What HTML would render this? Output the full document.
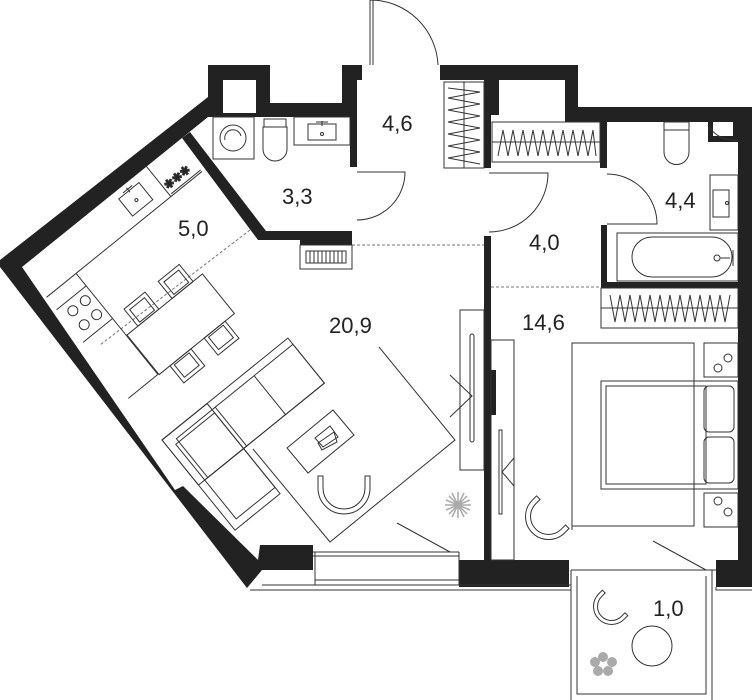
<!DOCTYPE html>
<html><head><meta charset="utf-8"><style>
html,body{margin:0;padding:0;background:#fff}
svg{display:block}
text{font-family:"Liberation Sans",sans-serif;font-size:22px;fill:#222}
</style></head><body>
<svg width="752" height="700" viewBox="0 0 752 700" xmlns="http://www.w3.org/2000/svg">
<g fill="#222" stroke="none">
<polygon points="208,97 208,117 22,267 175,490 182,490 258,560 260,545 313,545 313,570 262,570 247,588 0,267 0,260"/>
<polygon points="175,490 183,486 258,560 250,566"/>
<polygon points="208,65 270,65 270,103 342,103 342,65 362,65 362,80 357,80 357,167 350,167 350,117 270,117 208,117"/>
<rect x="223" y="80" width="33" height="33" fill="#fff"/>
<polygon points="182,138 190,132 266,231 300,231 352,231 352,245 300,245 300,240 258,240"/>
<polygon points="440,65 578,65 578,107 752,107 752,122 607,122 607,168 600,168 600,122 565,122 565,115 491,115 491,168 484,168 484,80 440,80"/>
<rect x="499" y="80" width="66" height="35" fill="#fff"/>
<rect x="738" y="107" width="14" height="453"/>
<rect x="716" y="560" width="36" height="27"/>
<rect x="708" y="122" width="30" height="20"/>
<rect x="713" y="122" width="20" height="14" fill="#fff"/>
<rect x="484" y="236" width="7" height="324"/>
<rect x="488" y="370" width="8" height="45"/>
<rect x="601" y="225" width="6" height="62"/>
<rect x="601" y="282" width="137" height="6"/>
<rect x="459" y="560" width="110" height="27"/>
</g>
<g fill="none" stroke="#333" stroke-width="1">
<path d="M313,552 H459 M313,556 H459 M315,580 H459 M262,585 H571 M250,590 H571 M315,552 V585 M459,552 V585"/>
<path d="M571,570 H716 M712,570 V700 M571,570 V700 M577,576 V694 H706 V576 M716,587 V590 H752"/>
<path d="M397,523 L450,552 M653,541 L706,570"/>
<path d="M370,0 V65 M373,0 V65 M370,0 A68,68 0 0 1 438,65"/>
<path d="M357,172 H405 A48,48 0 0 1 357,220"/>
<path d="M489,173 H548 A59,59 0 0 1 489,232"/>
<path d="M607,174 A50,50 0 0 1 657,224 H607"/>
<path d="M738,140 A30,30 0 0 1 708,125"/>
<path d="M250,230 L100,345 M352,245 H484 M491,287 H601" stroke-dasharray="3,2" stroke="#777"/>
<rect x="300" y="245" width="52" height="24"/>
<rect x="306" y="251" width="40" height="12"/>
<path d="M310,251v12M314,251v12M318,251v12M322,251v12M326,251v12M330,251v12M334,251v12M338,251v12M342,251v12"/>
<rect x="213" y="117" width="41" height="42"/><circle cx="233" cy="138" r="13"/><path d="M225,140 a8,8 0 0 1 16,-4"/>
<rect x="264" y="119" width="22" height="8"/><path d="M263,127 h24 v22 a12,12 0 0 1 -24,0 z"/>
<rect x="294" y="117" width="56" height="28"/><rect x="308" y="124" width="28" height="16"/><circle cx="322" cy="134" r="1.5"/><path d="M316,122 h12 M322,121 v5"/>
<rect x="444" y="82" width="40" height="86"/><path d="M464,82 V168"/>
<path d="M448,88 L480,92 L448,98 L480,104 L448,110 L480,116 L448,122 L480,128 L448,134 L480,140 L448,146 L480,152 L448,158 L480,164"/>
<rect x="492" y="122" width="108" height="40"/><path d="M492,142 H600"/>
<path d="M498,156 L503,130 L508,156 L513,130 L518,156 L523,130 L528,156 L533,130 L538,156 L543,130 L548,156 L553,130 L558,156 L563,130 L568,156 L573,130 L578,156 L583,130 L588,156 L593,130 L596,156"/>
<rect x="601" y="288" width="137" height="40"/><path d="M601,308 H738"/>
<path d="M610,295 L615,322 L620,295 L625,322 L630,295 L635,322 L640,295 L645,322 L650,295 L655,322 L660,295 L665,322 L670,295 L675,322 L680,295 L685,322 L690,295 L695,322 L700,295 L705,322 L710,295 L715,322 L720,295 L725,322 L730,295"/>
<rect x="664" y="122" width="25" height="8"/><path d="M664,130 h25 v22 a12.5,12.5 0 0 1 -25,0 z"/>
<rect x="710" y="175" width="28" height="55"/><rect x="713" y="190" width="16" height="27"/><circle cx="727" cy="203" r="1.5"/>
<rect x="617" y="233" width="121" height="48"/><rect x="632" y="237" width="100" height="40" rx="20"/><circle cx="717" cy="258" r="3"/><path d="M720,258 h10 M733,250 v16"/>
<g transform="translate(22,267) rotate(-39)">
<path d="M0,39 H200 M160,0 V39 M162,37 H200"/>
<rect x="118" y="8" width="26" height="22"/><circle cx="131" cy="20" r="1.5"/><path d="M125,6 h12 M131,4 v6"/>
<path d="M38,39 V169 M0,169 H38 M0,55 H38 M0,97 H38"/>
<circle cx="12" cy="66" r="5"/><circle cx="28" cy="66" r="5"/><circle cx="12" cy="84" r="5"/><circle cx="28" cy="84" r="5"/>
</g>
<text x="162" y="183" style="font-size:12px" transform="rotate(-39 175 178)">✱✱✱</text>
<g transform="translate(127,335) rotate(-39)">
<rect x="0" y="0" width="97" height="51"/>
<rect x="14" y="-22" width="27" height="22"/><rect x="18" y="-18" width="19" height="16"/>
<rect x="58" y="-22" width="27" height="22"/><rect x="62" y="-18" width="19" height="16"/>
<rect x="14" y="51" width="27" height="22"/><rect x="18" y="53" width="19" height="16"/>
<rect x="58" y="51" width="27" height="22"/><rect x="62" y="53" width="19" height="16"/>
</g>
<g transform="translate(162,440) rotate(-39)">
<rect x="0" y="0" width="162" height="58"/><rect x="12" y="8" width="150" height="50"/><path d="M62,8 V58 M112,8 V58"/>
<rect x="0" y="0" width="58" height="116"/><rect x="8" y="12" width="50" height="96"/><path d="M8,58 H58"/>
</g>
<path d="M379,347 L455,440 L330,542 L253,449"/>
<polygon points="287,448 333,410 354,435 308,473"/>
<polygon points="315,438 330,426 338,437 323,447"/>
<polygon points="318,443 334,432 337,442 322,450"/>
<path d="M318,488 a25,25 0 0 0 52,0 v-12 h-5 v12 a20,20 0 0 1 -42,0 v-12 h-5 z"/>
<rect x="460" y="310" width="24" height="160"/><rect x="470" y="334" width="4" height="108" rx="2"/>
<path d="M450,375 L472,396 L450,417"/>
<rect x="491" y="340" width="23" height="220"/><rect x="499" y="430" width="3" height="84"/>
<path d="M514,458 L502,472 L514,486"/>
<path d="M572,530 V343 H694 V526 H572"/>
<rect x="601" y="381" width="137" height="108"/><rect x="606" y="386" width="100" height="98"/>
<rect x="704" y="386" width="30" height="46" rx="5"/><rect x="704" y="437" width="30" height="46" rx="5"/>
<rect x="704" y="343" width="34" height="34"/><circle cx="718" cy="368" r="4"/><circle cx="728" cy="358" r="4"/>
<rect x="704" y="493" width="34" height="34"/><circle cx="718" cy="501" r="4"/><circle cx="728" cy="512" r="4"/>
<g transform="rotate(45 545 520)"><path d="M522,515 a23,23 0 0 0 46,0 v-6 h-5 v6 a18,18 0 0 1 -36,0 v-6 h-5 z"/></g>
<circle cx="652" cy="646" r="20"/>
<g transform="rotate(45 608 610)"><path d="M590,605 a18,18 0 0 0 36,0 v-5 h-4 v5 a14,14 0 0 1 -28,0 v-5 h-4 z"/></g>
</g>
<g stroke="#aaa" stroke-width="1.5" fill="none">
<path d="M458,492 L458,518 M445,505 L471,505 M449,496 L467,514 M449,514 L467,496 M452,493 L464,517 M464,493 L452,517 M446,500 L470,510 M446,510 L470,500"/>
</g>
<g fill="#aaa"><circle cx="603" cy="657" r="5"/><circle cx="612" cy="662" r="5"/><circle cx="608" cy="671" r="5"/><circle cx="598" cy="671" r="5"/><circle cx="595" cy="662" r="5"/></g>
<text x="382" y="131">4,6</text>
<text x="282" y="204">3,3</text>
<text x="178" y="236">5,0</text>
<text x="329" y="333">20,9</text>
<text x="529" y="250">4,0</text>
<text x="665" y="208">4,4</text>
<text x="522" y="330">14,6</text>
<text x="653" y="616">1,0</text>
</svg>
</body></html>
